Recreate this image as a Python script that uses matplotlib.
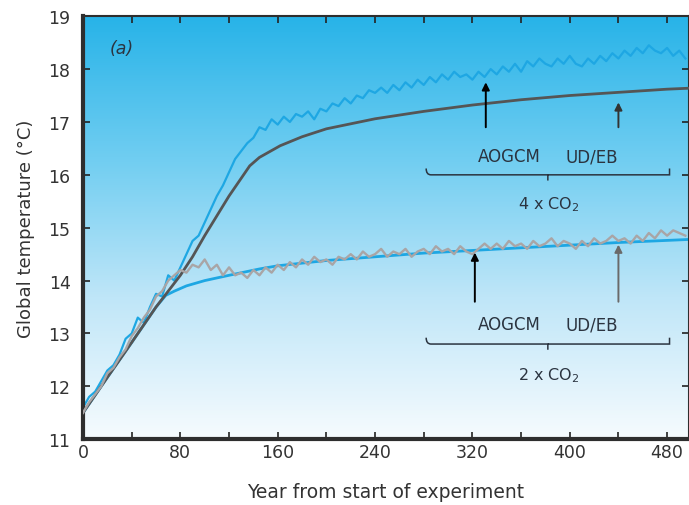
import numpy as np
import matplotlib.pyplot as plt
from matplotlib.path import Path
from matplotlib.patches import PathPatch
from matplotlib.colors import LinearSegmentedColormap

# model years for the noisy AOGCM runs (5-year samples)
years_aogcm = list(range(0, 500, 5))

aogcm_4x = [11.6, 11.8, 11.9, 12.1, 12.3, 12.4, 12.6, 12.9, 13.0, 13.3,
            13.2, 13.5, 13.75, 13.7, 14.1, 14.0, 14.25, 14.5, 14.75, 14.85,
            15.1, 15.35, 15.6, 15.8, 16.05, 16.3, 16.45, 16.6, 16.7, 16.9,
            16.85, 17.05, 16.95, 17.1, 17.0, 17.15, 17.1, 17.2, 17.05, 17.25,
            17.2, 17.35, 17.3, 17.45, 17.35, 17.5, 17.45, 17.6, 17.55, 17.65,
            17.55, 17.7, 17.6, 17.75, 17.65, 17.8, 17.7, 17.85, 17.75, 17.9,
            17.8, 17.95, 17.85, 17.9, 17.8, 17.95, 17.85, 18.0, 17.9, 18.05,
            17.95, 18.1, 17.95, 18.15, 18.05, 18.2, 18.1, 18.05, 18.2, 18.1,
            18.25, 18.1, 18.05, 18.2, 18.1, 18.25, 18.15, 18.3, 18.2, 18.35,
            18.25, 18.4, 18.3, 18.45, 18.35, 18.3, 18.4, 18.25, 18.35, 18.2]

aogcm_2x = [11.5, 11.7, 11.85, 12.0, 12.25, 12.35, 12.55, 12.7, 12.95, 13.1,
            13.3, 13.45, 13.7, 13.8, 14.0, 14.1, 14.2, 14.15, 14.3, 14.25,
            14.4, 14.2, 14.3, 14.1, 14.25, 14.1, 14.15, 14.05, 14.2, 14.1,
            14.25, 14.15, 14.3, 14.2, 14.35, 14.25, 14.4, 14.3, 14.45, 14.35,
            14.4, 14.3, 14.45, 14.4, 14.5, 14.4, 14.55, 14.45, 14.5, 14.6,
            14.45, 14.55, 14.5, 14.6, 14.45, 14.55, 14.6, 14.5, 14.65, 14.55,
            14.6, 14.5, 14.65, 14.55, 14.5, 14.6, 14.7, 14.6, 14.7, 14.6,
            14.75, 14.65, 14.7, 14.6, 14.75, 14.65, 14.7, 14.8, 14.65, 14.75,
            14.7, 14.6, 14.75, 14.65, 14.8, 14.7, 14.75, 14.85, 14.75, 14.8,
            14.7, 14.85, 14.75, 14.9, 14.8, 14.95, 14.85, 14.95, 14.9, 14.85]

# UD/EB energy balance model curves
years_udeb_4x = [0, 20, 40, 60, 80, 90, 100, 120, 137, 145, 162, 180, 200,
                 240, 280, 320, 360, 400, 440, 480, 500]
udeb_4x = [11.5, 12.17, 12.83, 13.5, 14.1, 14.45, 14.85, 15.6, 16.17, 16.33,
           16.55, 16.72, 16.87, 17.06, 17.2, 17.32, 17.42, 17.5, 17.56, 17.62,
           17.64]

years_udeb_2x = [0, 20, 40, 60, 68, 75, 85, 100, 120, 145, 160, 200,
                 240, 280, 320, 360, 400, 440, 480, 500]
udeb_2x = [11.5, 12.17, 12.83, 13.5, 13.72, 13.8, 13.9, 14.0, 14.1, 14.22,
           14.28, 14.38, 14.45, 14.52, 14.57, 14.62, 14.67, 14.72, 14.76, 14.78]

x_ticks = [0, 80, 160, 240, 320, 400, 480]
y_ticks = [11, 12, 13, 14, 15, 16, 17, 18, 19]

BLUE = '#1ea7e3'
DARK = '#555555'
GREY = '#a9a5a6'
TXT = '#333333'
NOTE = '#2b3440'


def brace(ax, x0, x1, y, h):
    """horizontal curly brace, tip pointing down at the middle"""
    xm = (x0 + x1) / 2
    verts = [(x0, y + h), (x0, y), (x0 + 4, y), (x0 + 10, y),
             (xm - 4, y), (xm, y), (xm, y - h * 0.9),
             (xm, y), (xm + 4, y), (x1 - 10, y),
             (x1 - 4, y), (x1, y), (x1, y + h)]
    codes = [Path.MOVETO, Path.CURVE3, Path.CURVE3, Path.LINETO,
             Path.CURVE3, Path.CURVE3, Path.LINETO,
             Path.MOVETO, Path.CURVE3, Path.LINETO,
             Path.CURVE3, Path.CURVE3, Path.LINETO]
    ax.add_patch(PathPatch(Path(verts, codes), fill=False, lw=1.1,
                           ec=NOTE, zorder=5))


def arrow(ax, x, y0, y1, color):
    ax.annotate('', xy=(x, y1), xytext=(x, y0),
                arrowprops=dict(arrowstyle='-|>', color=color, lw=1.4,
                                mutation_scale=11, shrinkA=0, shrinkB=0),
                zorder=6)


fig = plt.figure(figsize=(6.89, 5.06), dpi=100)
ax = fig.add_axes([0.1205, 0.13, 0.8795, 0.836])

# sky-to-white background
cmap = LinearSegmentedColormap.from_list(
    'sky', ['#f6fbfe', '#bfe6f8', '#6fcdf1', '#27b3e8'])
grad = np.linspace(0, 1, 256).reshape(-1, 1)
ax.imshow(grad, cmap=cmap, aspect='auto', origin='lower',
          extent=[0, 1, 0, 1], transform=ax.transAxes, zorder=0)

ax.plot(years_aogcm, aogcm_4x, color=BLUE, lw=1.6, zorder=2)
ax.plot(years_udeb_4x, udeb_4x, color=DARK, lw=2.0, zorder=3)
ax.plot(years_udeb_2x, udeb_2x, color=BLUE, lw=2.0, zorder=2)
ax.plot(years_aogcm, aogcm_2x, color=GREY, lw=1.7, zorder=4)

ax.set_xlim(0, 498)
ax.set_ylim(11, 19)
ax.set_xticks(x_ticks)
ax.set_xticks(range(40, 500, 80), minor=True)
ax.set_yticks(y_ticks)
ax.tick_params(axis='both', which='both', direction='in', length=5,
               width=1.2, color='#222222', labelsize=12.5, labelcolor=TXT,
               top=True, right=True)
ax.tick_params(axis='y', pad=9)
ax.tick_params(axis='x', pad=3)

for side, w in [('left', 3), ('bottom', 3), ('top', 1.5), ('right', 1.5)]:
    ax.spines[side].set_linewidth(w)
    ax.spines[side].set_color('#2e2e2e')

ax.set_xlabel('Year from start of experiment', fontsize=13.5, color=TXT,
              labelpad=15)
ax.set_ylabel('Global temperature (°C)', fontsize=13, color=TXT,
              labelpad=10)

ax.text(22, 18.3, '(a)', style='italic', fontsize=12.5, color=NOTE)

# 4 x CO2 annotation
arrow(ax, 331, 16.9, 17.75, 'black')
arrow(ax, 440, 16.9, 17.37, '#333333')
ax.text(350, 16.35, 'AOGCM', ha='center', va='center', fontsize=12,
        color=NOTE)
ax.text(418, 16.35, 'UD/EB', ha='center', va='center', fontsize=12,
        color=NOTE)
brace(ax, 282, 482, 16.0, 0.12)
ax.text(383, 15.45, '4 x CO$_2$', ha='center', va='center', fontsize=11.5,
        color=NOTE)

# 2 x CO2 annotation
arrow(ax, 322, 13.6, 14.53, 'black')
arrow(ax, 440, 13.6, 14.68, '#6a6a6a')
ax.text(350, 13.17, 'AOGCM', ha='center', va='center', fontsize=12,
        color=NOTE)
ax.text(418, 13.17, 'UD/EB', ha='center', va='center', fontsize=12,
        color=NOTE)
brace(ax, 282, 482, 12.8, 0.12)
ax.text(383, 12.23, '2 x CO$_2$', ha='center', va='center', fontsize=11.5,
        color=NOTE)

fig.savefig('out.png', dpi=100)
